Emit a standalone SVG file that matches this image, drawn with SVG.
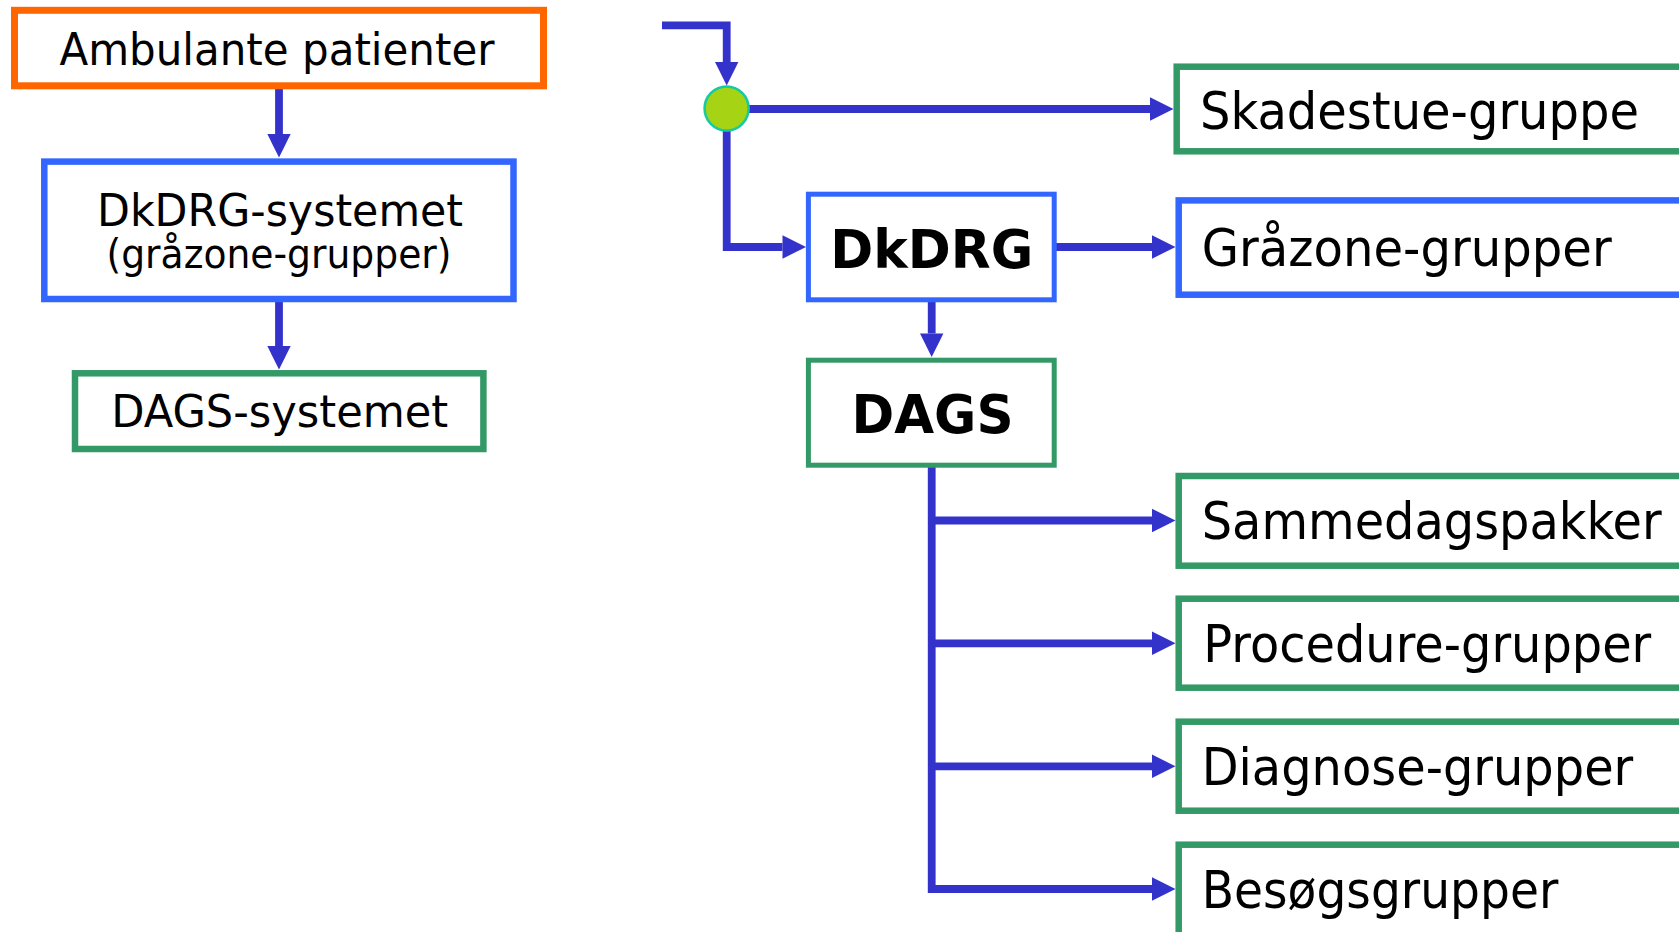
<svg xmlns="http://www.w3.org/2000/svg" width="1679" height="932" viewBox="0 0 1679 932">
<style>
  .box { fill: #FFFFFF; }
  .orange { stroke: #FF6600; stroke-width: 7; }
  .blue { stroke: #3366FF; stroke-width: 6.5; }
  .blue2 { stroke: #3366FF; stroke-width: 5; }
  .green { stroke: #339966; stroke-width: 6.5; }
  .green2 { stroke: #339966; stroke-width: 5; }
  .t { font-family: "DejaVu Sans", Verdana, sans-serif; fill: #000000; }
  .l44 { font-size: 45px; text-anchor: middle; }
  .l38 { font-size: 40px; text-anchor: middle; }
  .r50 { font-size: 51px; }
  .b53 { font-size: 54px; font-weight: bold; text-anchor: middle; }
  .conn { fill: none; stroke: #3333CC; stroke-width: 7.8; stroke-linejoin: miter; stroke-linecap: butt; }
</style>
<defs>
  <marker id="arr" markerUnits="userSpaceOnUse" markerWidth="24" markerHeight="24" refX="0" refY="11.7" orient="auto" overflow="visible">
    <path d="M0,0 L23.5,11.7 L0,23.4 Z" fill="#3333CC"/>
  </marker>
</defs>

<g id="connectors">
  <path class="conn" d="M279,89 V134" marker-end="url(#arr)"/>
  <path class="conn" d="M279,302 V346" marker-end="url(#arr)"/>
  <path class="conn" d="M662,25.3 H726.7 V62" marker-end="url(#arr)"/>
  <path class="conn" d="M749,109 H1150" marker-end="url(#arr)"/>
  <path class="conn" d="M726.7,131 V247 H782.5" marker-end="url(#arr)"/>
  <path class="conn" d="M1056,247 H1152" marker-end="url(#arr)"/>
  <path class="conn" d="M931.7,302 V333.5" marker-end="url(#arr)"/>
  <path class="conn" d="M931.7,467 V889 H1152" marker-end="url(#arr)"/>
  <path class="conn" d="M931.7,520.5 H1152" marker-end="url(#arr)"/>
  <path class="conn" d="M931.7,643.3 H1152" marker-end="url(#arr)"/>
  <path class="conn" d="M931.7,766.3 H1152" marker-end="url(#arr)"/>
</g>

<g id="junction">
  <circle cx="726.6" cy="108.5" r="22" fill="#A6D415" stroke="#19C9A0" stroke-width="2.6"/>
</g>

<g id="ambulante">
  <rect class="box orange" x="14.5" y="10.3" width="529" height="75.5"/>
  <text class="t l44" x="277" y="65" textLength="435" lengthAdjust="spacingAndGlyphs">Ambulante patienter</text>
</g>

<g id="dkdrg-systemet">
  <rect class="box blue" x="44.3" y="161.6" width="469.2" height="137.4"/>
  <text class="t l44" x="280" y="226" textLength="366" lengthAdjust="spacingAndGlyphs">DkDRG-systemet</text>
  <text class="t l38" x="279" y="268.3" textLength="345" lengthAdjust="spacingAndGlyphs">(gråzone-grupper)</text>
</g>

<g id="dags-systemet">
  <rect class="box green" x="75" y="373.3" width="408.4" height="75.7"/>
  <text class="t l44" x="279.7" y="427.3" textLength="337" lengthAdjust="spacingAndGlyphs">DAGS-systemet</text>
</g>

<g id="dkdrg">
  <rect class="box blue2" x="808.4" y="194.2" width="245.8" height="105.6"/>
  <text class="t b53" x="931.7" y="268.3" textLength="203" lengthAdjust="spacingAndGlyphs">DkDRG</text>
</g>

<g id="dags">
  <rect class="box green2" x="808.4" y="360.2" width="245.8" height="105"/>
  <text class="t b53" x="932.5" y="433.3" textLength="162" lengthAdjust="spacingAndGlyphs">DAGS</text>
</g>

<g id="skadestue">
  <rect class="box green" x="1176.7" y="66.7" width="520" height="84.6"/>
  <text class="t r50" x="1200" y="129" textLength="439" lengthAdjust="spacingAndGlyphs">Skadestue-gruppe</text>
</g>

<g id="grazone">
  <rect class="box blue" x="1178.7" y="200.4" width="520" height="94.3"/>
  <text class="t r50" x="1201.7" y="266" textLength="410" lengthAdjust="spacingAndGlyphs">Gråzone-grupper</text>
</g>

<g id="sammedagspakker">
  <rect class="box green" x="1178.7" y="476" width="520" height="89.7"/>
  <text class="t r50" x="1201.7" y="539" textLength="460" lengthAdjust="spacingAndGlyphs">Sammedagspakker</text>
</g>

<g id="procedure">
  <rect class="box green" x="1178.7" y="598.7" width="520" height="89"/>
  <text class="t r50" x="1203.3" y="661.7" textLength="448" lengthAdjust="spacingAndGlyphs">Procedure-grupper</text>
</g>

<g id="diagnose">
  <rect class="box green" x="1178.7" y="721.7" width="520" height="89"/>
  <text class="t r50" x="1201.7" y="785" textLength="431.6" lengthAdjust="spacingAndGlyphs">Diagnose-grupper</text>
</g>

<g id="besog">
  <rect class="box green" x="1178.7" y="844.7" width="520" height="120"/>
  <text class="t r50" x="1201.7" y="908.3" textLength="356.6" lengthAdjust="spacingAndGlyphs">Besøgsgrupper</text>
</g>
</svg>
